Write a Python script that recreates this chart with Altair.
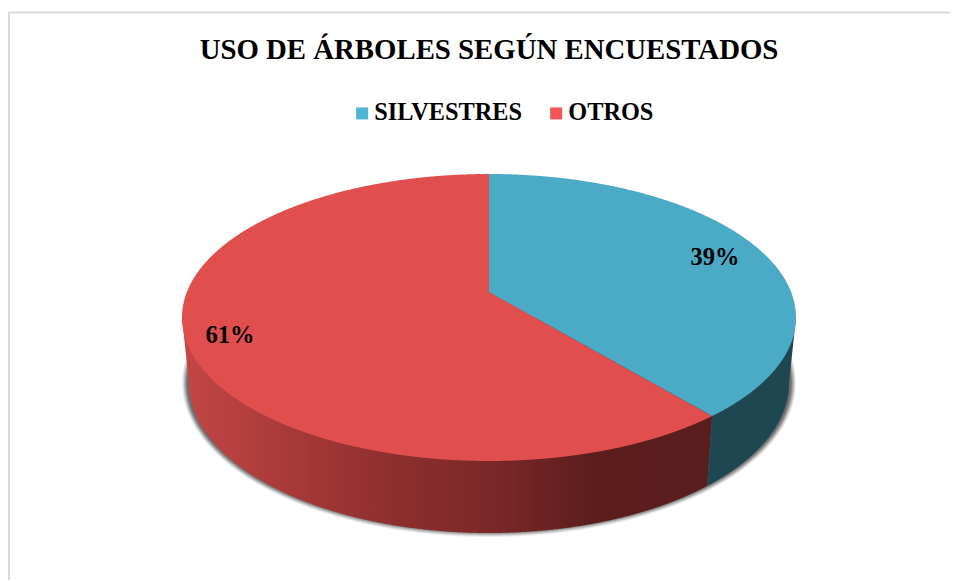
import numpy as np
import pandas as pd
import altair as alt

# ---- values
categories = ["SILVESTRES", "OTROS"]
shares = [39, 61]
labels = ["39%", "61%"]
title_text = "USO DE ÁRBOLES SEGÚN ENCUESTADOS"

W, H = 942, 572
FONT = "Liberation Serif"
CX, CY, RX, RY = 481.0, 309.5, 307.0, 143.5     # top face
BX, BY, BRX, BRY = 481.0, 375.0, 300.0, 150.0   # bottom rim
k = -25.5 / RY                                  # perspective shift of the pie centre

# boundary between the slices, from the share (clockwise from the top)
theta = 2 * np.pi * shares[0] / sum(shares)
u, v = np.sin(theta), -np.cos(theta)
bx = CX + RX * u * np.sqrt(1 - k * k) / (1 + k * v)
by = CY + RY * (v + k) / (1 + k * v)
apex_y = CY + RY * k
sx = bx - 5.0                                    # lower end of the wall seam
sy = by + 70.5


def upper(x):
    return CY - RY * np.sqrt(np.clip(1 - ((x - CX) / RX) ** 2, 0, 1))


def lower(x):
    return CY + RY * np.sqrt(np.clip(1 - ((x - CX) / RX) ** 2, 0, 1))


def rim(x):
    inside = np.abs(x - BX) <= BRX
    y = BY + BRY * np.sqrt(np.clip(1 - ((x - BX) / BRX) ** 2, 0, 1))
    return np.where(inside, y, CY + (BY - CY) * (1 - (np.abs(x - CX) - BRX) / (RX - BRX)))


def dense(a, b):
    t = np.linspace(0, np.pi, 500)
    return a + (b - a) * (1 - np.cos(t)) / 2


def frame(x, y, y2):
    return pd.DataFrame({"x": x, "y": y, "y2": y2})


xe = {"x": alt.X("x:Q", scale=alt.Scale(domain=[0, W], nice=False, zero=False), axis=None)}
ys = alt.Scale(domain=[H, 0], nice=False, zero=False)


def area(df, **mark):
    return alt.Chart(df).mark_area(**mark).encode(
        **xe,
        y=alt.Y("y:Q", scale=ys, axis=None),
        y2="y2:Q",
    )


layers = []

# soft shadow under the pie
for d, op in [(5, 0.10), (4, 0.16), (3, 0.22), (2, 0.30), (1, 0.38), (0, 0.45)]:
    rx, ry = 302.0 + d, 149.0 + d
    xs = dense(BX - rx, BX + rx)
    h = ry * np.sqrt(np.clip(1 - ((xs - BX) / rx) ** 2, 0, 1))
    layers.append(area(frame(xs, BY - h, BY + h), color="#555555", opacity=op))

# side wall, red
xs = dense(CX - RX, bx)
seam = by + (bx - xs) * (sy - by) / (bx - sx)
layers.append(area(frame(xs, np.full_like(xs, CY), np.minimum(rim(xs), np.where(xs > sx, seam, 1e4))),
                   color=alt.Gradient(gradient="linear", x1=0, x2=1, y1=0, y2=0, stops=[
                       alt.GradientStop(color="#C44646", offset=0.0),
                       alt.GradientStop(color="#A63838", offset=0.22),
                       alt.GradientStop(color="#8C2E2E", offset=0.41),
                       alt.GradientStop(color="#7C2828", offset=0.58),
                       alt.GradientStop(color="#5C1D1D", offset=0.78),
                       alt.GradientStop(color="#5A1D1D", offset=1.0),
                   ])))

# side wall, blue
xs = dense(sx, CX + RX)
seam = by + (bx - xs) * (sy - by) / (bx - sx)
top = np.where(xs < bx, seam, CY)
layers.append(area(frame(xs, top, rim(xs)), color="#1E4752"))

# top face, red
xa = dense(CX - RX, CX)
xb = dense(CX, bx)[1:]
xs = np.concatenate([xa, xb])
top = np.concatenate([upper(xa), apex_y + (xb - CX) * (by - apex_y) / (bx - CX)])
layers.append(area(frame(xs, top, lower(xs)), color="#E04E4E"))

# top face, blue
xs = dense(CX, CX + RX)
bot = np.where(xs < bx, apex_y + (xs - CX) * (by - apex_y) / (bx - CX), lower(xs))
layers.append(area(frame(xs, upper(xs), bot), color="#4BAAC6"))

# chart frame
frame_df = pd.DataFrame({"x": [1.0, 1.0, W], "y": [H, 4.5, 4.5], "o": [0, 1, 2]})
layers.append(alt.Chart(frame_df).mark_line(color="#D9D9D9", strokeWidth=2).encode(
    **xe, y=alt.Y("y:Q", scale=ys, axis=None), order=alt.Order("o:Q")))

# percentage labels
lab = pd.DataFrame({"x": [707.0, 222.0], "y": [250.0, 328.0], "t": labels})
layers.append(alt.Chart(lab).mark_text(font=FONT, fontWeight="bold", fontSize=24.5, color="black").encode(
    **xe, y=alt.Y("y:Q", scale=ys, axis=None), text="t:N"))

# legend
leg = pd.DataFrame({"c": categories, "x": [0.0, 0.0], "y": [0.0, 0.0], "s": shares})
layers.append(alt.Chart(leg).mark_square(opacity=0, size=144).encode(
    **xe, y=alt.Y("y:Q", scale=ys, axis=None),
    color=alt.Color("c:N", scale=alt.Scale(domain=categories, range=["#4FB5D6", "#F55555"]),
                    legend=alt.Legend(orient="none", legendX=342, legendY=93, direction="horizontal",
                                      title=None, symbolType="square", symbolSize=144, symbolOpacity=1,
                                      symbolStrokeWidth=0, labelFont=FONT, labelFontWeight="bold",
                                      labelFontSize=24.3, labelColor="black", labelOffset=0,
                                      columnPadding=22, labelLimit=300)),
))

chart = alt.layer(*layers).properties(
    width=W, height=H, padding=0,
    autosize=alt.AutoSizeParams(type="none"),
    title=alt.TitleParams(title_text, font=FONT, fontWeight="bold", fontSize=28.8, color="black",
                          anchor="middle", dy=67, dx=10),
).configure_view(stroke=None).configure_axis(grid=False)

chart.save("out.html", embed_options={"renderer": "svg", "actions": False})
